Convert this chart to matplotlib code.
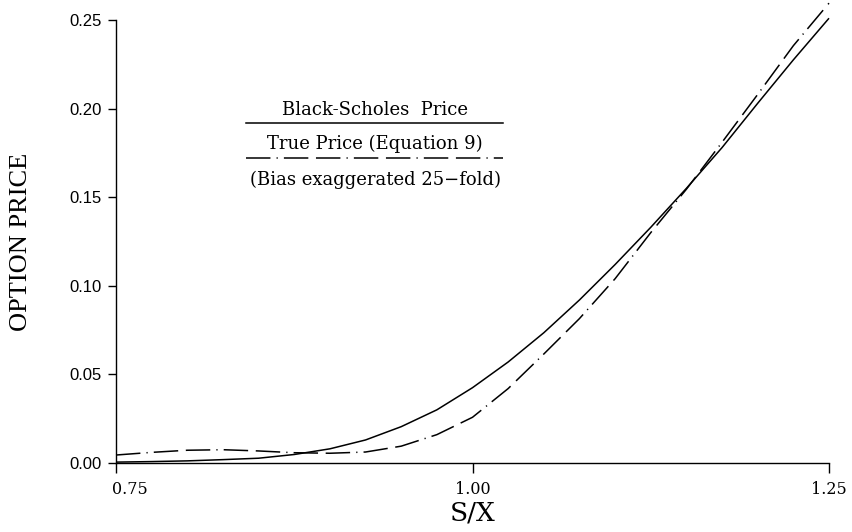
import matplotlib
matplotlib.use("Agg")
import matplotlib.pyplot as plt
from matplotlib.lines import Line2D
from matplotlib.transforms import ScaledTranslation

# Moneyness grid S/X
s_over_x = [0.750, 0.775, 0.800, 0.825, 0.850, 0.875, 0.900, 0.925, 0.950, 0.975,
            1.000, 1.025, 1.050, 1.075, 1.100, 1.125, 1.150, 1.175, 1.200, 1.225, 1.250]

# Black-Scholes call price
bs_price = [0.0005, 0.0008, 0.0012, 0.0019, 0.0027, 0.0048, 0.0080, 0.0130, 0.0205, 0.0300,
            0.0425, 0.0570, 0.0735, 0.0920, 0.1120, 0.1330, 0.1550, 0.1780, 0.2030, 0.2275, 0.2510]

# True price (Equation 9), bias exaggerated 25-fold
true_price = [0.0045, 0.0060, 0.0072, 0.0075, 0.0068, 0.0058, 0.0055, 0.0062, 0.0095, 0.0160,
              0.0258, 0.0420, 0.0615, 0.0815, 0.1040, 0.1300, 0.1545, 0.1810, 0.2080, 0.2355, 0.2595]

x_ticks = [0.75, 1.00, 1.25]
x_tick_labels = ["0.75", "1.00", "1.25"]
y_ticks = [0.00, 0.05, 0.10, 0.15, 0.20, 0.25]
y_tick_labels = ["0.00", "0.05", "0.10", "0.15", "0.20", "0.25"]

legend_title = "Black-Scholes  Price"
legend_true = "True Price (Equation 9)"
legend_note = "(Bias exaggerated 25\u2212fold)"

SERIF = ["DejaVu Serif"]
TIMES = ["Liberation Serif", "DejaVu Serif"]
SANS = ["Liberation Sans", "DejaVu Sans"]

fig = plt.figure(figsize=(8.52, 5.32), dpi=100)
ax = fig.add_axes([116 / 852, 1 - 463 / 532, (829 - 116) / 852, (463 - 20) / 532])

dash_style = (0, (16, 4, 0.8, 4, 16, 5))

ax.plot(s_over_x, bs_price, color="black", lw=1.1, clip_on=False,
        solid_capstyle="butt")
ax.plot(s_over_x, true_price, color="black", lw=1.1, clip_on=False,
        linestyle=dash_style, dash_capstyle="butt")

ax.set_xlim(0.75, 1.25)
ax.set_ylim(0.0, 0.25)

for side in ("top", "right"):
    ax.spines[side].set_visible(False)
for side in ("left", "bottom"):
    ax.spines[side].set_linewidth(1.0)

ax.set_xticks(x_ticks)
ax.set_xticklabels(x_tick_labels, family=SERIF, fontsize=11.5)
ax.set_yticks(y_ticks)
ax.set_yticklabels(y_tick_labels, family=SANS, fontsize=12)
ax.tick_params(axis="x", direction="out", length=7, width=1.0, pad=6)
ax.tick_params(axis="y", direction="out", length=6, width=1.0, pad=4)

# the first x label sits just right of its tick
first = ax.get_xticklabels()[0]
first.set_transform(first.get_transform() + ScaledTranslation(10 / 72, 0, fig.dpi_scale_trans))

ax.set_xlabel("S/X", family=SERIF, fontsize=19, labelpad=2)
ax.set_ylabel("OPTION PRICE", family=TIMES, fontsize=19, labelpad=27)

# Hand-drawn style key in the upper middle of the plot
def fx(px):
    return px / 852

def fy(py):
    return 1 - py / 532

cx = fx(375)
fig.text(cx, fy(110), legend_title, family=SERIF, fontsize=13, ha="center", va="center")
fig.add_artist(Line2D([fx(246), fx(503)], [fy(123), fy(123)], color="black", lw=1.1))
fig.text(cx, fy(144), legend_true, family=SERIF, fontsize=13, ha="center", va="center")
fig.add_artist(Line2D([fx(246), fx(503)], [fy(158), fy(158)], color="black", lw=1.1,
                      linestyle=dash_style))
fig.text(cx, fy(180), legend_note, family=SERIF, fontsize=13, ha="center", va="center")

fig.savefig("out.png", dpi=100, facecolor="white")
